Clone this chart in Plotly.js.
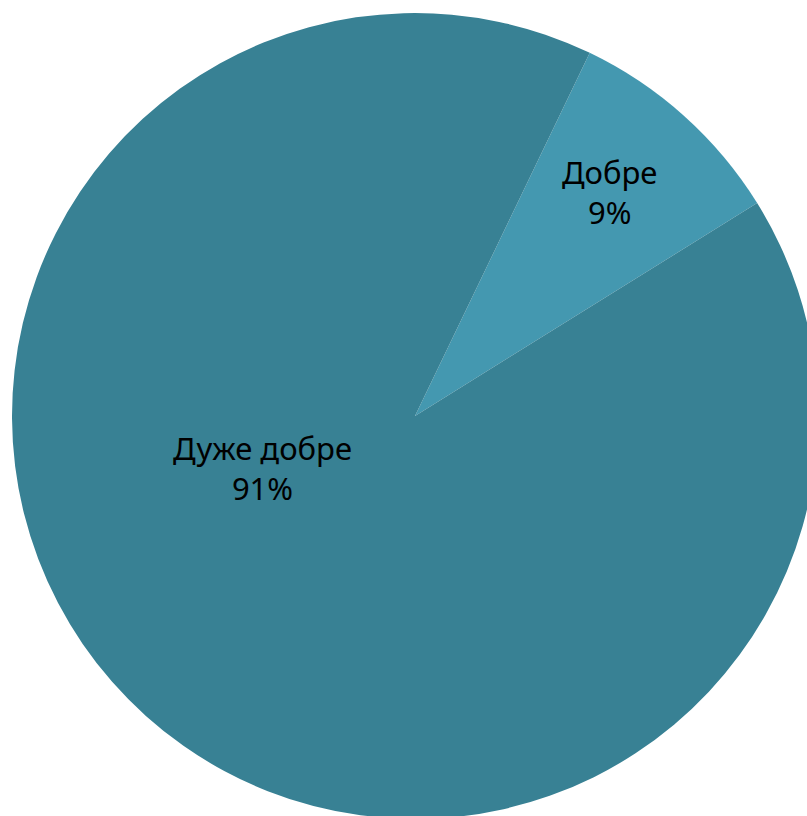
<!DOCTYPE html>
<html>
<head>
<meta charset="utf-8">
<script src="https://cdn.plot.ly/plotly-3.0.1.min.js"></script>
<style>
html,body{margin:0;padding:0;overflow:hidden;background:#fff;}
#chart{width:830px;height:830px;}
</style>
</head>
<body>
<div id="chart"></div>
<script>
// Data
var labels = ["Добре", "Дуже добре"];
var values = [9, 91];
var colors = ["#4498B0", "#388194"];

var W = 830, H = 830;
var total = values.reduce(function(a,b){return a+b;},0);
var pct = values.map(function(v){return Math.round(v/total*100) + "%";});

// label placement (centres of the text blocks, in pixels)
var labelPos = [[609, 192], [262, 468]];

var annotations = labels.map(function(l, i){
  return {
    text: l + "<br>" + pct[i],
    xref: "paper", yref: "paper",
    x: labelPos[i][0]/W, y: (H - labelPos[i][1])/H,
    xanchor: "center", yanchor: "middle",
    showarrow: false,
    font: {family: "Noto Sans, sans-serif", size: 31, color: "#000000"}
  };
});

var trace = {
  type: "pie",
  labels: labels,
  values: values,
  sort: false,
  direction: "clockwise",
  rotation: 25.7,
  marker: {colors: colors, line: {width: 0}},
  textinfo: "none",
  hoverinfo: "skip",
  domain: {x: [12/W, 818/W], y: [11/H, 817/H]},
  showlegend: false
};

var layout = {
  width: W, height: H,
  margin: {l:0, r:0, t:0, b:0},
  paper_bgcolor: "#ffffff",
  plot_bgcolor: "#ffffff",
  showlegend: false,
  annotations: annotations
};

Plotly.newPlot("chart", [trace], layout, {displayModeBar: false, staticPlot: true});
</script>
</body>
</html>
